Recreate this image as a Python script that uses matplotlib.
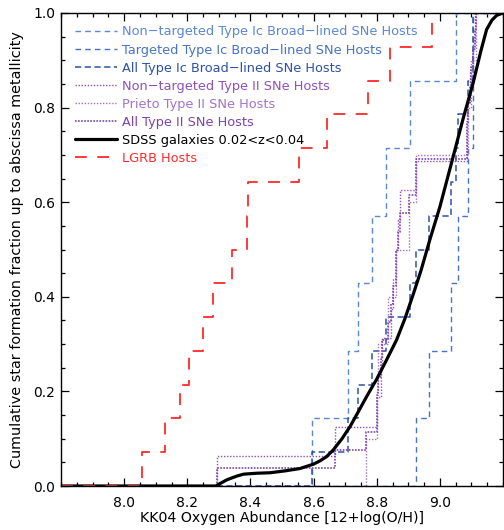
import matplotlib
matplotlib.use("Agg")
import matplotlib.pyplot as plt
from matplotlib.ticker import MultipleLocator

plt.rcParams['font.family'] = ['DejaVu Sans']
plt.rcParams['lines.scale_dashes'] = False

# ---------------- data ----------------
# Type Ic broad-lined SN hosts: metallicity of each step and cumulative fraction
ic_nt_x = [8.594, 8.709, 8.742, 8.784, 8.829, 8.905, 9.050]
ic_nt_y = [0.143, 0.286, 0.429, 0.571, 0.714, 0.857, 1.000]

ic_t_x = [8.926, 8.966, 9.034, 9.058, 9.090, 9.104, 9.104]
ic_t_y = [0.143, 0.286, 0.429, 0.571, 0.714, 0.857, 1.000]

ic_all_x = [8.594, 8.709, 8.742, 8.784, 8.829, 8.905, 8.926, 8.966, 9.034,
            9.050, 9.058, 9.090, 9.104, 9.104]
ic_all_y = [0.071, 0.143, 0.214, 0.286, 0.357, 0.429, 0.500, 0.571, 0.643,
            0.714, 0.786, 0.857, 0.929, 1.000]

# Type II SN hosts
ii_nt_x = [8.293, 8.668, 8.800, 8.812, 8.818, 8.845, 8.850, 8.862, 8.868,
           8.873, 8.926, 9.085, 9.085, 9.095, 9.105, 9.112]
ii_nt_y = [0.0625, 0.125, 0.1875, 0.25, 0.3125, 0.375, 0.4375, 0.5, 0.5625,
           0.625, 0.6875, 0.75, 0.8125, 0.875, 0.9375, 1.0]

ii_pr_x = [8.766, 8.800, 8.805, 8.835, 8.860, 8.903, 8.926, 9.090, 9.100, 9.115]
ii_pr_y = [0.1, 0.2, 0.3, 0.4, 0.5, 0.6, 0.7, 0.8, 0.9, 1.0]

ii_all_x = [8.293, 8.668, 8.766, 8.800, 8.800, 8.805, 8.812, 8.818, 8.835,
            8.845, 8.850, 8.860, 8.862, 8.868, 8.873, 8.903, 8.926, 8.926,
            9.085, 9.085, 9.090, 9.095, 9.100, 9.105, 9.112, 9.115]
ii_all_y = [0.038, 0.077, 0.115, 0.154, 0.192, 0.231, 0.269, 0.308, 0.346,
            0.385, 0.423, 0.462, 0.500, 0.538, 0.577, 0.615, 0.654, 0.692,
            0.731, 0.769, 0.808, 0.846, 0.885, 0.923, 0.962, 1.000]

# SDSS galaxies star-formation-weighted cumulative distribution
sdss_x = [7.80, 8.29, 8.325, 8.357, 8.378, 8.42, 8.462, 8.51, 8.557, 8.599,
          8.62, 8.641, 8.662, 8.69, 8.715, 8.74, 8.768, 8.80, 8.83, 8.863,
          8.89, 8.915, 8.94, 8.968, 9.00, 9.042, 9.075, 9.105, 9.13, 9.148,
          9.165, 9.18, 9.20]
sdss_y = [0.0, 0.0, 0.013, 0.021, 0.025, 0.027, 0.028, 0.032, 0.037, 0.046,
          0.053, 0.062, 0.076, 0.100, 0.125, 0.155, 0.189, 0.226, 0.265, 0.309,
          0.355, 0.404, 0.455, 0.520, 0.590, 0.696, 0.780, 0.851, 0.920, 0.965,
          0.985, 0.995, 1.0]

# LGRB hosts
grb_x = [8.056, 8.128, 8.177, 8.206, 8.251, 8.283, 8.343, 8.389, 8.392,
         8.555, 8.641, 8.772, 8.842, 8.974]
grb_y = [0.071, 0.143, 0.214, 0.286, 0.357, 0.429, 0.500, 0.571, 0.643,
         0.714, 0.786, 0.857, 0.929, 1.000]

labels = ["Non\u2212targeted Type Ic Broad\u2212lined SNe Hosts",
          "Targeted Type Ic Broad\u2212lined SNe Hosts",
          "All Type Ic Broad\u2212lined SNe Hosts",
          "Non\u2212targeted Type II SNe Hosts",
          "Prieto Type II SNe Hosts",
          "All Type II SNe Hosts",
          "SDSS galaxies 0.02<z<0.04",
          "LGRB Hosts"]

x_ticks = [8.0, 8.2, 8.4, 8.6, 8.8, 9.0]
y_ticks = [0.0, 0.2, 0.4, 0.6, 0.8, 1.0]

XMIN, XMAX = 7.8, 9.2

# ---------------- figure ----------------
fig = plt.figure(figsize=(5.04, 5.30), dpi=100)
ax = fig.add_axes([61/504, 1-486/530, 442/504, 473/530])


def step(xs, ys):
    return [XMIN] + list(xs) + [XMAX], [0.0] + list(ys) + [ys[-1]]


styles = [
    (ic_nt_x, ic_nt_y, dict(color='#5a88d4', lw=1.0, dashes=(4.0, 3.0))),
    (ic_t_x, ic_t_y, dict(color='#4574c4', lw=1.0, dashes=(4.0, 3.0))),
    (ic_all_x, ic_all_y, dict(color='#2c52a8', lw=1.1, dashes=(4.5, 2.5))),
    (ii_nt_x, ii_nt_y, dict(color='#9150ba', lw=1.0, dashes=(1.0, 1.2))),
    (ii_pr_x, ii_pr_y, dict(color='#a373cc', lw=1.0, dashes=(1.0, 1.2))),
    (ii_all_x, ii_all_y, dict(color='#7f42ad', lw=1.2, dashes=(1.2, 1.0))),
]

handles = []
for (xs, ys, st), lab in zip(styles, labels[:6]):
    sx, sy = step(xs, ys)
    h, = ax.plot(sx, sy, drawstyle='steps-post', label=lab, **st)
    handles.append(h)

h, = ax.plot(sdss_x, sdss_y, color='black', lw=2.3, label=labels[6],
             solid_capstyle='round')
handles.append(h)

sx, sy = step(grb_x, grb_y)
h, = ax.plot(sx, sy, drawstyle='steps-post', color='#ff2a2a', lw=1.3,
             dashes=(8.5, 7.5), label=labels[7])
handles.append(h)

ax.set_xlim(XMIN, XMAX)
ax.set_ylim(0.0, 1.0)

ax.set_xticks(x_ticks)
ax.set_xticklabels([f"{v:.1f}" for v in x_ticks])
ax.set_yticks(y_ticks)
ax.set_yticklabels([f"{v:.1f}" for v in y_ticks])
ax.xaxis.set_minor_locator(MultipleLocator(0.05))
ax.yaxis.set_minor_locator(MultipleLocator(0.05))
ax.tick_params(which='both', direction='in', top=True, right=True,
               labelsize=10, width=0.9)
ax.tick_params(which='major', length=6)
ax.tick_params(which='minor', length=3)
ax.tick_params(axis='x', pad=7)
ax.tick_params(axis='y', pad=4)
for sp in ax.spines.values():
    sp.set_linewidth(1.0)

fig.text(282/504, 1-518/530, "KK04 Oxygen Abundance [12+log(O/H)]",
         ha='center', va='center', fontsize=10.2)
fig.text(17/504, 1-250/530,
         "Cumulative star formation fraction up to abscissa metallicity",
         ha='center', va='center', rotation=90, fontsize=10.4)

leg = ax.legend(handles=handles, loc='upper left',
                bbox_to_anchor=(14/442, 1-12.5/473), frameon=False,
                fontsize=9.3, handlelength=3.25, handletextpad=0.4,
                labelspacing=0.39, borderpad=0, borderaxespad=0,
                labelcolor='linecolor')

fig.savefig("out.png", dpi=100)
